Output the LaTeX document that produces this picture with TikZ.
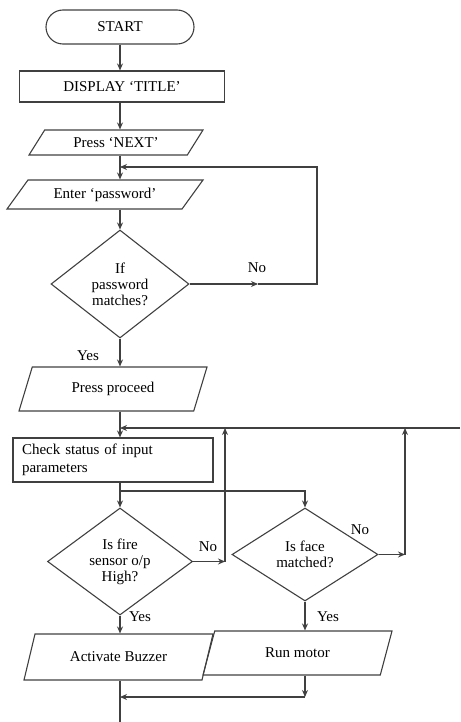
\documentclass[tikz,border=0pt]{standalone}
\usepackage{fontspec}
\setmainfont{Liberation Serif}
\usetikzlibrary{shapes.geometric,positioning,arrows.meta}

\tikzstyle{term} = [draw, rectangle, rounded corners=17pt, minimum width=148pt, minimum height=34pt]
\tikzstyle{proc} = [draw, rectangle, minimum height=31pt]
\tikzstyle{io} = [draw, trapezium, trapezium stretches body, inner sep=2pt]
\tikzstyle{dec} = [draw, diamond, inner sep=0pt, align=center]
\tikzstyle{lbl} = [rectangle, inner sep=0pt]

\begin{document}
\begin{tikzpicture}[x=1pt, y=-1pt, >={Stealth[length=7pt,width=6pt]}, line width=1.1pt,
    draw=black!75, text=black, font=\fontsize{15}{16}\selectfont]
  \useasboundingbox (0,0) rectangle (460,722);

  \node[term] (start) at (120,27) {START};
  \node[proc, below of=start, node distance=59.5pt, xshift=2pt, minimum width=205pt] (title) {DISPLAY `TITLE'};
  \node[io, below of=title, node distance=56pt, xshift=-6pt, trapezium left angle=42, trapezium right angle=138,
    minimum width=174pt, minimum height=25pt] (next) {Press `NEXT'};
  \node[io, below of=next, node distance=52pt, xshift=-11pt, trapezium left angle=40, trapezium right angle=140,
    minimum width=196pt, minimum height=29pt] (pwd) {Enter `password'};
  \node[dec, below of=pwd, node distance=89.5pt, xshift=15pt, minimum width=138pt, minimum height=108pt] (match)
    {If\\password\\matches?};
  \node[io, below of=match, node distance=105pt, xshift=-7pt, trapezium left angle=53, trapezium right angle=127,
    minimum width=188pt, minimum height=44pt] (proceed) {Press proceed};
  \node[proc, below of=proceed, node distance=71pt, minimum width=200pt, minimum height=44pt,
    inner xsep=9pt, text width=182pt, align=left, font=\fontsize{15}{18}\selectfont] (check)
    {Check status of input\\parameters};
  \node[dec, below of=check, node distance=101.5pt, xshift=7pt, minimum width=145pt, minimum height=107pt] (fire)
    {Is fire\\sensor o/p\\High?};
  \node[dec, right of=fire, node distance=185pt, yshift=7pt, minimum width=146pt, minimum height=93pt] (face)
    {Is face\\matched?};
  \node[io, below of=fire, node distance=95.5pt, xshift=-1.5pt, trapezium left angle=52, trapezium right angle=128,
    minimum width=189pt, minimum height=46pt] (buzzer) {Activate Buzzer};
  \node[io, below of=face, node distance=98.5pt, xshift=-7.5pt, trapezium left angle=50, trapezium right angle=130,
    minimum width=189pt, minimum height=44pt] (motor) {Run motor};

  % junctions
  \node[coordinate] (loopin) at (120,167) {};
  \node[coordinate] (loopup) at (317,167) {};
  \node[coordinate] (loopdn) at (317,284) {};
  \node[coordinate] (nomid) at (258,284) {};
  \node[coordinate] (merge) at (120,428) {};
  \node[coordinate] (split) at (120,491) {};
  \node[coordinate] (firebend) at (225,561.5) {};
  \node[coordinate] (firetop) at (225,428) {};
  \node[coordinate] (facebend) at (405,554.5) {};
  \node[coordinate] (facetop) at (405,428) {};
  \node[coordinate] (rightend) at (460,428) {};
  \node[coordinate] (motorbend) at (305,697) {};
  \node[coordinate] (join) at (120,697) {};
  \node[coordinate] (endpt) at (120,722) {};

  % labels
  \node[lbl] (no_pwd) at (257,268) {No};
  \node[lbl] (yes_pwd) at (88,356) {Yes};
  \node[lbl] (no_fire) at (208,547) {No};
  \node[lbl] (yes_fire) at (140,617) {Yes};
  \node[lbl] (no_face) at (360,530) {No};
  \node[lbl] (yes_face) at (328,617) {Yes};

  \draw [->] (start) -- (title.north -| start);
  \draw [->] (title.south -| start) -- (next.north -| start);
  \draw (next.south -| start) -- (loopin);
  \draw [->] (loopin) -- (pwd.north -| start);
  \draw [->] (pwd.south -| start) -- (match.north);

  \draw [->] (match.east) -- (nomid);
  \draw [->] (nomid) -- (loopdn) -- (loopup) -- (loopin);
  \draw [->] (match.south) -- (proceed.north -| match);

  \draw (proceed.south -| start) -- (merge);
  \draw [->] (merge) -- (check.north -| start);
  \draw (check.south -| start) -- (split);
  \draw [->] (split) -- (fire.north);
  \draw [->] (split) -| (face.north);

  \draw [->] (fire.east) -- (firebend);
  \draw [->] (firebend) -- (firetop);
  \draw [->] (face.east) -- (facebend);
  \draw [->] (facebend) -- (facetop);
  \draw [->] (rightend) -- (merge);

  \draw [->] (fire.south) -- (buzzer.north -| fire);
  \draw [->] (face.south) -- (motor.north -| face);
  \draw [->] (motor.south -| face) -- (motorbend);
  \draw [->] (motorbend) -- (join);
  \draw (buzzer.south -| start) -- (endpt);

\end{tikzpicture}
\end{document}
